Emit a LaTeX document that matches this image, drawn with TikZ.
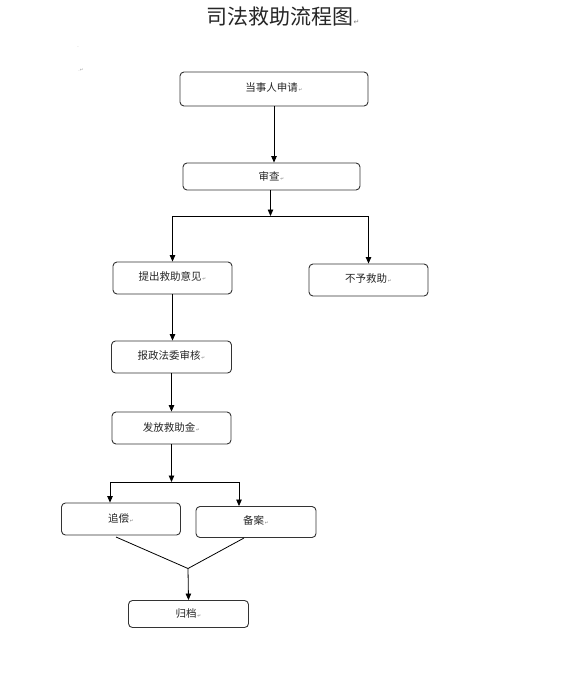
\documentclass[tikz,border=0pt]{standalone}
\usepackage{fontspec}
\newfontfamily\cjk{Noto Sans CJK SC}
\newfontfamily\symf{DejaVu Sans}
\usetikzlibrary{arrows.meta}
\newcommand{\pmark}{{\symf\fontsize{4.5}{5}\selectfont\color{gray}\,↵}}
\tikzset{
  box/.style={draw=black!80, line width=0.9pt, rounded corners=4pt, inner sep=0pt,
    font=\cjk\fontsize{10.5}{12}\selectfont, text=black!85},
  arr/.style={line width=0.8pt, -{Triangle[length=6.5pt,width=5.5pt]}},
  ln/.style={line width=0.8pt},
  stray/.style={font=\symf\fontsize{4.5}{5}\selectfont, text=gray!70}
}
\begin{document}
\begin{tikzpicture}[x=1pt,y=-1pt]
\useasboundingbox (0,0) rectangle (570,674);
\fill[white] (0,0) rectangle (570,674);
% title
\node[font=\cjk\fontsize{21}{24}\selectfont, text=black!85] (title) at (283,17) {司法救助流程图{\symf\fontsize{7}{8}\selectfont\color{gray}↵}};
\node[stray] (st1) at (78,47) {.};
\node[stray] (st2) at (81,70) {.↵};
% boxes
\node[box, minimum width=188pt, minimum height=34pt] (b1) at (274,89) {\raisebox{4pt}{当事人申请\pmark}};
\node[box, minimum width=177pt, minimum height=27pt] (b2) at (271.5,176.5) {审查\pmark};
\node[box, minimum width=119pt, minimum height=32pt] (b3) at (172.5,278) {\raisebox{3pt}{提出救助意见\pmark}};
\node[box, minimum width=119pt, minimum height=32pt] (b4) at (368.5,280) {\raisebox{3pt}{不予救助\pmark}};
\node[box, minimum width=120pt, minimum height=32pt] (b5) at (171.5,357) {\raisebox{3pt}{报政法委审核\pmark}};
\node[box, minimum width=119pt, minimum height=32pt] (b6) at (171.5,428) {\raisebox{2pt}{发放救助金\pmark}};
\node[box, minimum width=119pt, minimum height=32pt] (b7) at (121,519) {\raisebox{2pt}{追偿\pmark}};
\node[box, minimum width=120pt, minimum height=31pt] (b8) at (256,522) {\raisebox{3pt}{备案\pmark}};
\node[box, minimum width=120pt, minimum height=27pt] (b9) at (188.5,614) {归档\pmark};
% connectors
\draw[arr] (b1.south) -- (b1.south |- b2.north);
\coordinate (s1) at (270.5,216);
\draw[arr] (s1 |- b2.south) -- (s1);
\draw[arr] (s1) -| (b3.north);
\draw[arr] (s1) -| (b4.north);
\draw[arr] (b3.south) -- (b3.south |- b5.north);
\draw[arr] (b5.south) -- (b5.south |- b6.north);
\coordinate (s2) at (171.5,482);
\draw[arr] (b6.south) -- (s2);
\coordinate (l2) at (110,482);
\coordinate (r2) at (239,482);
\draw[ln] (l2) -- (r2);
\draw[arr] (l2) -- (l2 |- b7.north);
\draw[arr] (r2) -- (r2 |- b8.north);
\coordinate (m) at (188,568.5);
\coordinate (p7) at (116,537);
\coordinate (p8) at (244,538);
\draw[ln] (p7) -- (m) -- (p8);
\draw[arr] (m) -- (b9.north);
\end{tikzpicture}
\end{document}
